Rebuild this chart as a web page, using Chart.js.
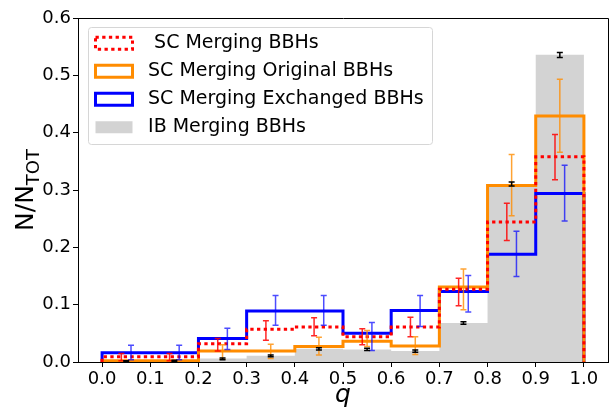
<!DOCTYPE html>
<html>
<head>
<meta charset="utf-8">
<script src="https://cdn.jsdelivr.net/npm/chart.js@4.4.1/dist/chart.umd.min.js"></script>
<style>
  html, body { margin: 0; padding: 0; background: #fff; }
  #wrap { position: relative; width: 614px; height: 410px; }
</style>
</head>
<body>
<div id="wrap"><canvas id="myChart"></canvas></div>
<script>
// bins in q and tick labels
const binEdges = [0.0, 0.1, 0.2, 0.3, 0.4, 0.5, 0.6, 0.7, 0.8, 0.9, 1.0];
const xTicks = [0.0, 0.1, 0.2, 0.3, 0.4, 0.5, 0.6, 0.7, 0.8, 0.9, 1.0];
const yTicks = [0.0, 0.1, 0.2, 0.3, 0.4, 0.5, 0.6];
const xTitle = 'q';
const yTitle = 'N/N';
const yTitleSub = 'TOT';

// legend names
const seriesNames = [' SC Merging BBHs', 'SC Merging Original BBHs', 'SC Merging Exchanged BBHs', 'IB Merging BBHs'];

// SC Merging BBHs (red, dotted)
const scAll   = [0.009, 0.009, 0.032, 0.057, 0.061, 0.044, 0.061, 0.127, 0.244, 0.358];
const scAllLo = [0.002, 0.002, 0.019, 0.038, 0.046, 0.030, 0.044, 0.098, 0.212, 0.318];
const scAllHi = [0.015, 0.015, 0.041, 0.072, 0.077, 0.058, 0.078, 0.146, 0.277, 0.397];

// SC Merging Original BBHs (orange)
const scOrig   = [0.002, 0.002, 0.019, 0.019, 0.027, 0.036, 0.028, 0.131, 0.308, 0.429];
const scOrigLo = [null, null, 0.005, 0.006, 0.012, 0.027, 0.013, 0.091, 0.255, 0.366];
const scOrigHi = [null, null, 0.030, 0.031, 0.043, 0.055, 0.044, 0.162, 0.362, 0.493];

// SC Merging Exchanged BBHs (blue)
const scExch   = [0.016, 0.016, 0.041, 0.089, 0.089, 0.050, 0.090, 0.123, 0.188, 0.294];
const scExchLo = [0.004, 0.004, 0.022, 0.064, 0.064, 0.020, 0.062, 0.087, 0.149, 0.246];
const scExchHi = [0.029, 0.029, 0.059, 0.116, 0.116, 0.069, 0.116, 0.151, 0.228, 0.343];

// IB Merging BBHs (grey filled)
const ibAll   = [0.001, 0.002, 0.006, 0.011, 0.023, 0.022, 0.019, 0.068, 0.310, 0.536];
const ibAllLo = [0.000, 0.001, 0.004, 0.009, 0.021, 0.020, 0.017, 0.066, 0.307, 0.531];
const ibAllHi = [0.002, 0.003, 0.007, 0.012, 0.025, 0.024, 0.021, 0.070, 0.314, 0.540];

// outline of a step histogram from the bin edges
function stepPoints(vals) {
  const pts = [{ x: binEdges[0], y: 0 }];
  vals.forEach((v, i) => {
    pts.push({ x: binEdges[i], y: v });
    pts.push({ x: binEdges[i + 1], y: v });
  });
  pts.push({ x: binEdges[binEdges.length - 1], y: 0 });
  return pts;
}

const errorSets = [
  { lo: scAllLo,  hi: scAllHi,  color: 'rgba(255,0,0,0.85)',   dx: -0.01 },
  { lo: scOrigLo, hi: scOrigHi, color: 'rgba(255,140,0,0.8)',  dx: 0 },
  { lo: scExchLo, hi: scExchHi, color: 'rgba(0,0,255,0.7)',    dx: 0.01 },
  { lo: ibAllLo,  hi: ibAllHi,  color: '#000000',              dx: 0 }
];

const FONT = 'DejaVu Sans';
const LEG_FONT = 19;
const LEG_PAD = 9;
const LEG_SHIFT_X = 8.5;
const LEG_SHIFT_Y = 6.8;

Chart.defaults.font.family = FONT;
Chart.defaults.color = '#000';

// error bars drawn through the scales
const errorBarPlugin = {
  id: 'errorBars',
  afterDatasetsDraw(chart) {
    const { ctx, scales: { x, y } } = chart;
    errorSets.forEach(set => {
      ctx.save();
      ctx.strokeStyle = set.color;
      ctx.lineWidth = 1.5;
      set.lo.forEach((lo, i) => {
        const hi = set.hi[i];
        if (lo === null || hi === null) return;
        const xc = x.getPixelForValue((binEdges[i] + binEdges[i + 1]) / 2 + set.dx);
        const y0 = y.getPixelForValue(lo);
        const y1 = y.getPixelForValue(hi);
        ctx.beginPath();
        ctx.moveTo(xc, y0); ctx.lineTo(xc, y1);
        ctx.moveTo(xc - 3, y0); ctx.lineTo(xc + 3, y0);
        ctx.moveTo(xc - 3, y1); ctx.lineTo(xc + 3, y1);
        ctx.stroke();
      });
      ctx.restore();
    });
  }
};

// legend inside the axes, with a matplotlib-like frame
const legendFramePlugin = {
  id: 'legendFrame',
  afterLayout(chart) {
    chart.legend.left = chart.chartArea.left + LEG_SHIFT_X;
    chart.legend.top = chart.chartArea.top + LEG_SHIFT_Y;
  },
  beforeDraw(chart) {
    const lg = chart.legend;
    if (!lg || !lg.columnSizes || !lg.columnSizes.length) return;
    const { ctx } = chart;
    const n = lg.legendItems.length;
    const boxLeft = lg.left + LEG_PAD;
    const rowTop = lg.top + LEG_PAD;
    const left = boxLeft - 7.5;
    const top = rowTop - 6.4;
    const right = boxLeft + lg.columnSizes[0].width + 8;
    const bottom = rowTop + n * LEG_FONT + (n - 1) * LEG_PAD + 8;
    ctx.save();
    ctx.beginPath();
    ctx.roundRect(Math.round(left) + 0.5, Math.round(top) + 0.5, Math.round(right - left), Math.round(bottom - top), 3);
    ctx.fillStyle = 'rgba(255,255,255,0.8)';
    ctx.fill();
    ctx.strokeStyle = '#d6d6d6';
    ctx.lineWidth = 1;
    ctx.stroke();
    ctx.restore();
  }
};

// top/right spines and the y title with its subscript
const axesPlugin = {
  id: 'axesExtra',
  afterDraw(chart) {
    const { ctx, chartArea: a } = chart;
    ctx.save();
    ctx.strokeStyle = '#000';
    ctx.lineWidth = 1;
    ctx.beginPath();
    ctx.moveTo(Math.round(a.left) + 0.5, Math.round(a.top) + 0.5);
    ctx.lineTo(Math.round(a.right) + 0.5, Math.round(a.top) + 0.5);
    ctx.lineTo(Math.round(a.right) + 0.5, Math.round(a.bottom) + 0.5);
    ctx.stroke();

    const cy = (a.top + a.bottom) / 2;
    ctx.translate(33, cy);
    ctx.rotate(-Math.PI / 2);
    ctx.fillStyle = '#000';
    ctx.textBaseline = 'alphabetic';
    ctx.font = '25px "' + FONT + '"';
    const mainW = ctx.measureText(yTitle).width;
    ctx.font = '18px "' + FONT + '"';
    const subW = ctx.measureText(yTitleSub).width;
    const start = -(mainW + subW) / 2;
    ctx.font = '25px "' + FONT + '"';
    ctx.fillText(yTitle, start, 0);
    ctx.font = '18px "' + FONT + '"';
    ctx.fillText(yTitleSub, start + mainW, 6);
    ctx.restore();
  }
};

const ctx = document.getElementById('myChart').getContext('2d');
const myChart = new Chart(ctx, {
  type: 'line',
  data: {
    datasets: [
      {
        label: seriesNames[0],
        data: stepPoints(scAll),
        borderColor: '#ff0000',
        backgroundColor: 'rgba(255,255,255,0)',
        borderWidth: 3,
        borderDash: [3.3, 3.4],
        borderCapStyle: 'butt',
        borderJoinStyle: 'miter',
        pointRadius: 0,
        fill: false
      },
      {
        label: seriesNames[1],
        data: stepPoints(scOrig),
        borderColor: '#ff8c00',
        backgroundColor: 'rgba(255,255,255,0)',
        borderWidth: 3,
        borderJoinStyle: 'miter',
        pointRadius: 0,
        fill: false
      },
      {
        label: seriesNames[2],
        data: stepPoints(scExch),
        borderColor: '#0000ff',
        backgroundColor: 'rgba(255,255,255,0)',
        borderWidth: 3,
        borderJoinStyle: 'miter',
        pointRadius: 0,
        fill: false
      },
      {
        label: seriesNames[3],
        data: stepPoints(ibAll),
        borderColor: '#d3d3d3',
        backgroundColor: '#d3d3d3',
        borderWidth: 0,
        pointRadius: 0,
        fill: 'origin'
      }
    ]
  },
  options: {
    responsive: true,
    maintainAspectRatio: false,
    animation: false,
    devicePixelRatio: 1,
    layout: { padding: { left: 0, top: 18, right: 6, bottom: 0 } },
    plugins: {
      tooltip: { enabled: false },
      legend: {
        position: 'chartArea',
        align: 'start',
        labels: {
          font: { size: LEG_FONT, family: FONT },
          color: '#000',
          boxWidth: 37,
          boxHeight: 12,
          padding: LEG_PAD,
          generateLabels(chart) {
            const items = Chart.defaults.plugins.legend.labels.generateLabels(chart);
            items.forEach(it => { it.text = ' ' + it.text; });
            return items;
          }
        }
      }
    },
    scales: {
      x: {
        type: 'linear',
        min: -0.05,
        max: 1.05,
        afterBuildTicks(scale) { scale.ticks = xTicks.map(v => ({ value: v })); },
        afterFit(scale) { scale.height = 48; },
        ticks: {
          autoSkip: false,
          maxRotation: 0,
          padding: 2,
          font: { size: 18 },
          color: '#000',
          callback: v => v.toFixed(1)
        },
        grid: { drawOnChartArea: false, drawTicks: true, tickLength: 5, color: '#000' },
        border: { display: true, color: '#000', width: 1 },
        title: {
          display: true,
          text: xTitle,
          font: { size: 25, style: 'italic' },
          color: '#000',
          padding: { top: 0, bottom: 0 }
        }
      },
      y: {
        min: 0,
        max: 0.6,
        afterBuildTicks(scale) { scale.ticks = yTicks.map(v => ({ value: v })); },
        afterFit(scale) { scale.width = 78; },
        ticks: {
          padding: 2,
          font: { size: 18 },
          color: '#000',
          callback: v => v.toFixed(1)
        },
        grid: { drawOnChartArea: false, drawTicks: true, tickLength: 5, color: '#000' },
        border: { display: true, color: '#000', width: 1 }
      }
    }
  },
  plugins: [legendFramePlugin, errorBarPlugin, axesPlugin]
});
</script>
</body>
</html>
